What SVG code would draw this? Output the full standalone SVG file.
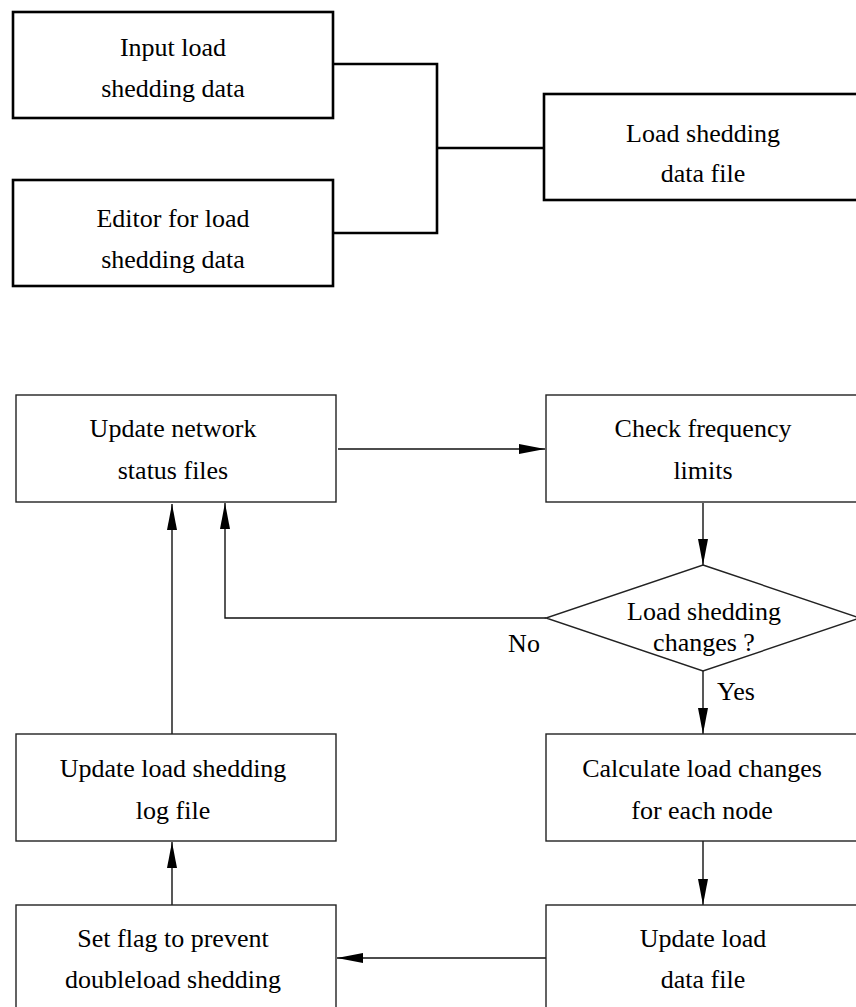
<svg xmlns="http://www.w3.org/2000/svg" width="856" height="1007" viewBox="0 0 856 1007">
<style>
text{font-family:'Liberation Serif','Times New Roman',Times,'DejaVu Serif',serif;font-size:26px;fill:#000;text-anchor:middle}
.top{fill:#fff;stroke:#000;stroke-width:2.6}
.box{fill:#fff;stroke:#222;stroke-width:1.4}
.tl{fill:none;stroke:#000;stroke-width:2.6}
.ln{fill:none;stroke:#111;stroke-width:1.4}
.arr{marker-end:url(#ah)}
</style>
<defs>
<marker id="ah" markerUnits="userSpaceOnUse" markerWidth="26" markerHeight="10" refX="26" refY="5" orient="auto">
<path d="M0,0 L26,5 L0,10 z" fill="#000"/>
</marker>
</defs>
<g id="connectors">
<path class="tl" d="M333,64 H437 V233 H333"/>
<path class="tl" d="M437,148 H544"/>
<path class="ln arr" d="M338,449 H545"/>
<path class="ln arr" d="M703,503 V565"/>
<path class="ln arr" d="M546,618 H225 V503"/>
<path class="ln arr" d="M703,671 V734"/>
<path class="ln arr" d="M703,841 V905"/>
<path class="ln arr" d="M546,958 H337"/>
<path class="ln arr" d="M172,905 V842"/>
<path class="ln arr" d="M172,734 V504"/>
<text x="524" y="652">No</text>
<text x="736" y="700">Yes</text>
</g>
<g id="input">
<rect class="top" x="13" y="12" width="320" height="106"/>
<text x="173" y="56">Input load</text>
<text x="173" y="97">shedding data</text>
</g>
<g id="editor">
<rect class="top" x="13" y="180" width="320" height="106"/>
<text x="173" y="227">Editor for load</text>
<text x="173" y="268">shedding data</text>
</g>
<g id="datafile">
<rect class="top" x="544" y="94" width="330" height="106"/>
<text x="703" y="142">Load shedding</text>
<text x="703" y="182">data file</text>
</g>
<g id="update-network">
<rect class="box" x="16" y="395" width="320" height="107"/>
<text x="173" y="437">Update network</text>
<text x="173" y="479">status files</text>
</g>
<g id="check-freq">
<rect class="box" x="546" y="395" width="330" height="107"/>
<text x="703" y="437">Check frequency</text>
<text x="703" y="479">limits</text>
</g>
<g id="decision">
<polygon class="box" points="703,565 860,618 703,671 546,618"/>
<text x="704" y="620">Load shedding</text>
<text x="704" y="651">changes ?</text>
</g>
<g id="log-file">
<rect class="box" x="16" y="734" width="320" height="107"/>
<text x="173" y="777">Update load shedding</text>
<text x="173" y="819">log file</text>
</g>
<g id="calc">
<rect class="box" x="546" y="734" width="330" height="107"/>
<text x="702" y="777">Calculate load changes</text>
<text x="702" y="819">for each node</text>
</g>
<g id="set-flag">
<rect class="box" x="16" y="905" width="320" height="120"/>
<text x="173" y="947">Set flag to prevent</text>
<text x="173" y="988">doubleload shedding</text>
</g>
<g id="update-load">
<rect class="box" x="546" y="905" width="330" height="120"/>
<text x="703" y="947">Update load</text>
<text x="703" y="988">data file</text>
</g>
</svg>
